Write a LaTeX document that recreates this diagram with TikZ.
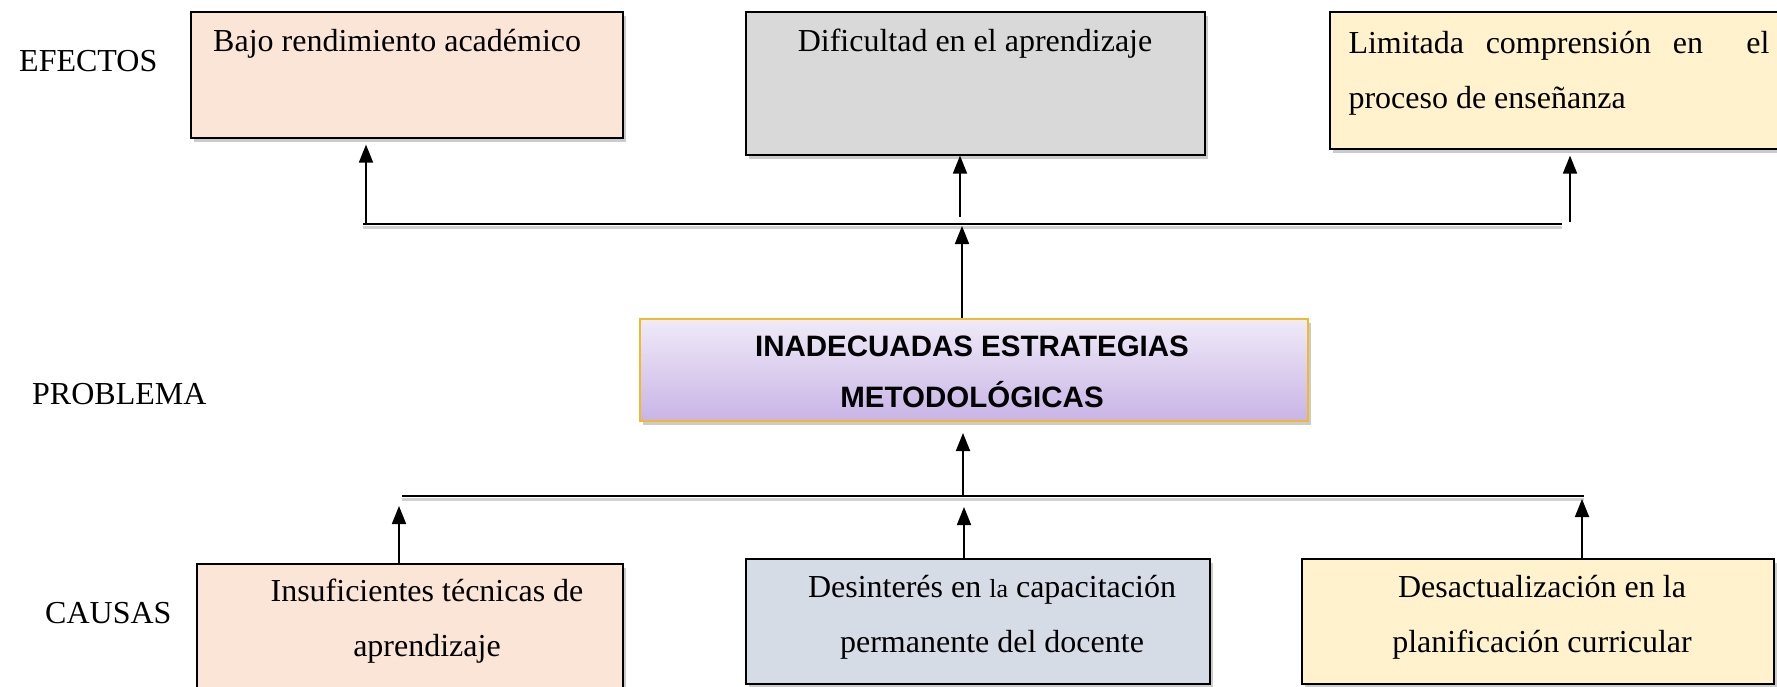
\documentclass[tikz,border=0pt]{standalone}
\usepackage{fontspec}
\setmainfont{Liberation Serif}
\newfontfamily\arialfont{Liberation Sans}
\usetikzlibrary{arrows.meta,shadows}
\definecolor{peach}{HTML}{FBE5D6}
\definecolor{greyb}{HTML}{D9D9D9}
\definecolor{cream}{HTML}{FFF2CC}
\definecolor{bluegrey}{HTML}{D6DCE5}
\definecolor{lavtop}{HTML}{F0EAF8}
\definecolor{lavbot}{HTML}{C8B4E6}
\definecolor{gold}{HTML}{F2B92A}
\begin{document}
\begin{tikzpicture}[x=1pt,y=-1pt,
  box/.style={draw=black,line width=1.6pt,rectangle,inner sep=0pt,anchor=north west,
    drop shadow={shadow xshift=3pt,shadow yshift=-4pt,fill=black!40,opacity=0.5}},
  lbl/.style={font=\fontsize{32}{55}\selectfont,inner sep=0pt},
  arr/.style={line width=1.8pt,-{Triangle[width=14pt,length=18pt]}},
  hline/.style={line width=2pt,black},
  hshadow/.style={line width=3pt,black!18}]
\useasboundingbox[fill=white] (0,0) rectangle (1777,686);
\begin{scope}[overlay]
\clip (0,0) rectangle (1777,686);

% side labels
\node[lbl,anchor=base west] (efectos) at (19,71) {EFECTOS};
\node[lbl,anchor=base west] (problema) at (32,404) {PROBLEMA};
\node[lbl,anchor=base west] (causas) at (45,623) {CAUSAS};

% effects
\node[box,fill=peach,minimum width=432pt,minimum height=126pt] (bajo) at (190,11) {};
\node[lbl,anchor=base west] (bajoT) at (213,51) {Bajo rendimiento académico};
\node[box,fill=greyb,minimum width=459pt,minimum height=143pt] (dif) at (745,11) {};
\node[lbl,anchor=base] (difT) at (975,51) {Dificultad en el aprendizaje};
\node[box,fill=cream,minimum width=470pt,minimum height=137pt] (lim) at (1329,11) {};
\node[lbl,anchor=center,align=left] (limT) at (1559,73)
  {\hbox to 421pt{Limitada\hfill comprensión\hfill en\hfill\hfill el}\\proceso de enseñanza};

% top connector line
\coordinate (tl) at (363,224);
\coordinate (tr) at (1562,224);
\draw[hshadow] ([yshift=-3.5pt]tl) -- ([yshift=-3.5pt]tr);
\draw[hline] (tl) -- (tr);
\coordinate (a1) at (366,224);
\coordinate (a2) at (960,217);
\coordinate (a3) at (1570,222);
\draw[arr,shorten >=6pt] (a1) -- (a1 |- bajo.south);
\draw[arr] (a2) -- (a2 |- dif.south);
\draw[arr,shorten >=6pt] (a3) -- (a3 |- lim.south);

% problem
\node[box,top color=lavtop,bottom color=lavbot,draw=gold,line width=2pt,
  minimum width=668pt,minimum height=102pt] (prob) at (639,318) {};
\node[inner sep=0pt,align=center,font=\arialfont\bfseries\fontsize{29.5}{51}\selectfont]
  (probT) at (972,372) {INADECUADAS ESTRATEGIAS\\METODOLÓGICAS};
\coordinate (a4) at (962,226);
\draw[arr] (prob.north -| a4) -- (a4);

% bottom connector line
\coordinate (bl) at (402,496);
\coordinate (br) at (1584,496);
\draw[hshadow] ([yshift=-3.5pt]bl) -- ([yshift=-3.5pt]br);
\draw[hline] (bl) -- (br);
\coordinate (a5) at (963,497);
\draw[arr,shorten >=11pt] (a5) -- (a5 |- prob.south);

% causes
\node[box,fill=peach,minimum width=426pt,minimum height=140pt] (insuf) at (196,563) {};
\node[lbl,align=center] (insufT) at (427,621) {Insuficientes técnicas de\\aprendizaje};
\node[box,fill=bluegrey,line width=2.2pt,minimum width=464pt,minimum height=125pt] (desi) at (745,558) {};
\node[lbl,align=center] (desiT) at (992,617)
  {Desinterés en {\fontsize{26}{26}\selectfont la} capacitación\\permanente del docente};
\node[box,fill=cream,minimum width=472pt,minimum height=125pt] (desa) at (1301,558) {};
\node[lbl,align=center] (desaT) at (1542,617) {Desactualización en la\\planificación curricular};

\coordinate (c1) at (399,496);
\coordinate (c2) at (964,496);
\coordinate (c3) at (1582,496);
\draw[arr,shorten >=10pt] (insuf.north -| c1) -- (c1);
\draw[arr,shorten >=11pt] (desi.north -| c2) -- (c2);
\draw[arr,shorten >=3pt] (desa.north -| c3) -- (c3);
\end{scope}
\end{tikzpicture}
\end{document}
